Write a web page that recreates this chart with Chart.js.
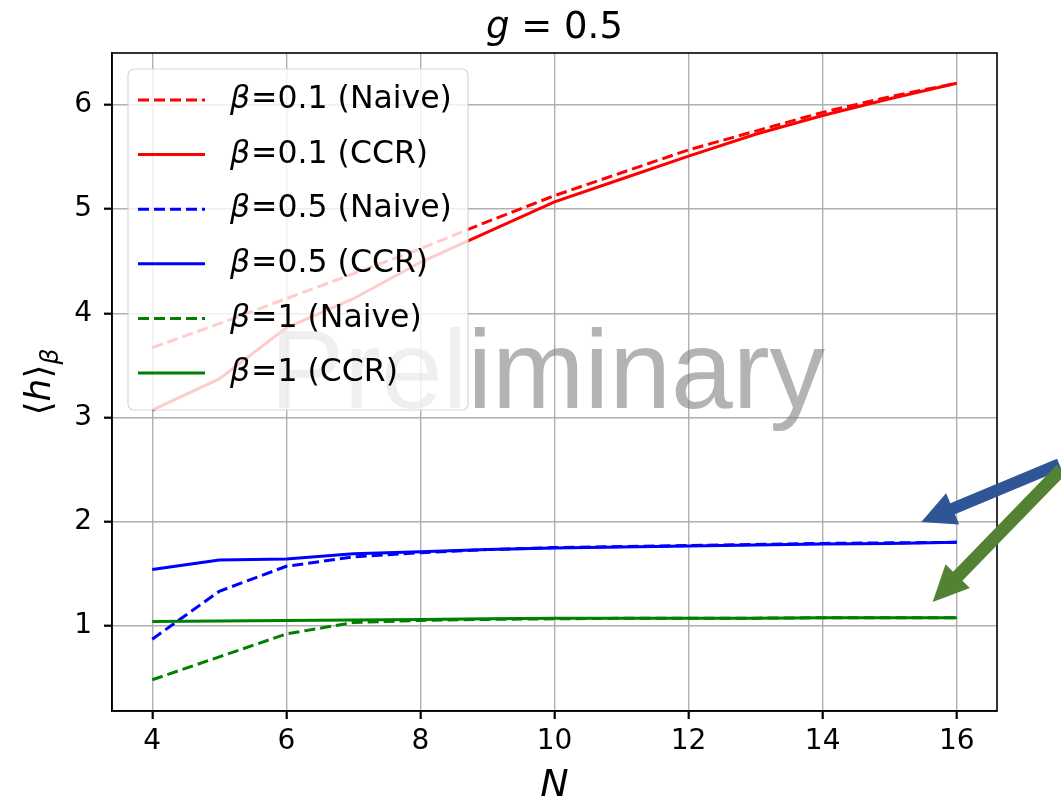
<!DOCTYPE html>
<html><head><meta charset="utf-8">
<script src="https://cdn.jsdelivr.net/npm/chart.js@4.4.0/dist/chart.umd.min.js"></script>
<style>html,body{margin:0;padding:0;background:#fff;}#wrap{width:1061px;height:800px;position:relative;}</style>
</head><body><div id="wrap"><canvas id="c" width="1061" height="800"></canvas></div>
<script>
// ---- data ----
const N = [4,5,6,7,8,9,10,11,12,13,14,15,16];
const red_naive   = [3.67,3.90,4.14,4.38,4.62,4.88,5.13,5.35,5.57,5.75,5.93,6.08,6.21];
const red_ccr     = [3.07,3.37,3.86,4.14,4.49,4.78,5.07,5.29,5.51,5.72,5.90,6.06,6.21];
const blue_naive  = [0.87,1.33,1.57,1.66,1.70,1.73,1.75,1.76,1.77,1.78,1.79,1.795,1.80];
const blue_ccr    = [1.54,1.63,1.64,1.69,1.71,1.73,1.745,1.755,1.765,1.775,1.785,1.79,1.80];
const green_naive = [0.48,0.70,0.92,1.03,1.05,1.06,1.065,1.07,1.07,1.072,1.075,1.075,1.075];
const green_ccr   = [1.04,1.045,1.05,1.055,1.06,1.065,1.07,1.07,1.07,1.072,1.075,1.075,1.075];
const seriesLabels = ['β=0.1 (Naive)','β=0.1 (CCR)','β=0.5 (Naive)','β=0.5 (CCR)','β=1 (Naive)','β=1 (CCR)'];
const xTicks = [4,6,8,10,12,14,16];
const yTicks = [1,2,3,4,5,6];
const titleText = ['g', ' = 0.5'];
const watermarkText = 'Preliminary';

// ---- styles ----
const series = [red_naive, red_ccr, blue_naive, blue_ccr, green_naive, green_ccr];
const colors = ['#ff0000','#ff0000','#0000ff','#0000ff','#008000','#008000'];
const dashed = [true,false,true,false,true,false];
const DASH = [11,5];
const LW = 3;
const FONT = '"DejaVu Sans", sans-serif';

const datasets = series.map((arr,i)=>({
  label: seriesLabels[i],
  data: N.map((x,j)=>({x:x, y:arr[j]})),
  borderColor: colors[i],
  backgroundColor: colors[i],
  borderWidth: LW,
  borderDash: dashed[i] ? DASH : [],
  pointRadius: 0,
  tension: 0,
  fill: false,
  order: 5 - i
}));

const arrows = [
  {tail:[17.53,2.55], tip:[15.47,1.996], color:'#2f5597', w:6, hw:17, hl:34},
  {tail:[17.56,2.50], tip:[15.64,1.227], color:'#548235', w:6.5, hw:17, hl:36}
];

const framePlugin = {
  id:'frame',
  afterDatasetsDraw(chart){
    const ctx = chart.ctx, a = chart.chartArea;
    // watermark
    ctx.save();
    ctx.font = '111px "Liberation Sans", Arial, sans-serif';
    ctx.fillStyle = 'rgba(128,128,128,0.6)';
    ctx.textBaseline = 'alphabetic';
    ctx.textAlign = 'left';
    ctx.fillText(watermarkText, 270, 408);
    ctx.restore();
    // frame
    ctx.save();
    ctx.strokeStyle = '#000'; ctx.lineWidth = 1.6;
    ctx.strokeRect(a.left, a.top, a.right-a.left, a.bottom-a.top);
    ctx.restore();
    // legend
    ctx.save();
    const bx = a.left+16, by = a.top+16, bw = 340, bh = 341, r = 6;
    ctx.beginPath();
    ctx.roundRect(bx, by, bw, bh, r);
    ctx.fillStyle = 'rgba(255,255,255,0.8)';
    ctx.fill();
    ctx.strokeStyle = 'rgba(204,204,204,0.8)';
    ctx.lineWidth = 1.2;
    ctx.stroke();
    chart.data.datasets.forEach((ds,i)=>{
      const cy = by + 31 + i*54.6;
      ctx.beginPath();
      ctx.setLineDash(ds.borderDash);
      ctx.strokeStyle = ds.borderColor;
      ctx.lineWidth = LW;
      ctx.moveTo(bx+10, cy); ctx.lineTo(bx+77, cy);
      ctx.stroke();
      ctx.setLineDash([]);
      ctx.fillStyle = '#000';
      ctx.textBaseline = 'middle';
      ctx.textAlign = 'left';
      const lab = ds.label;
      ctx.font = 'italic 31.5px ' + FONT;
      ctx.fillText(lab[0], bx+102, cy);
      const w0 = ctx.measureText(lab[0]).width;
      ctx.font = '31.5px ' + FONT;
      ctx.fillText(lab.slice(1), bx+102+w0+1, cy);
    });
    ctx.restore();
  },
  afterDraw(chart){
    const ctx = chart.ctx, a = chart.chartArea;
    const cx = (a.left+a.right)/2, cyA = (a.top+a.bottom)/2;
    ctx.save();
    ctx.fillStyle = '#000';
    ctx.textBaseline = 'alphabetic';
    // title
    ctx.font = 'italic 37px ' + FONT;
    const wg = ctx.measureText(titleText[0]).width;
    ctx.font = '37px ' + FONT;
    const wr = ctx.measureText(titleText[1]).width;
    let x0 = cx - (wg+wr)/2;
    ctx.font = 'italic 37px ' + FONT;
    ctx.fillText(titleText[0], x0, 38);
    ctx.font = '37px ' + FONT;
    ctx.fillText(titleText[1], x0+wg, 38);
    // x label
    ctx.font = 'italic 38px ' + FONT;
    ctx.textAlign = 'center';
    ctx.fillText('N', cx, 796);
    // y label
    ctx.save();
    ctx.translate(50, cyA);
    ctx.rotate(-Math.PI/2);
    ctx.textAlign = 'left';
    const parts = [['⟨','36px '],['h','italic 36px '],['⟩','36px ']];
    let tw = 0;
    parts.forEach(p=>{ctx.font = p[1]+FONT; tw += ctx.measureText(p[0]).width;});
    ctx.font = 'italic 25px ' + FONT; const wb = ctx.measureText('β').width;
    let px = -(tw+wb)/2;
    parts.forEach(p=>{ctx.font = p[1]+FONT; ctx.fillText(p[0], px, 0); px += ctx.measureText(p[0]).width;});
    ctx.font = 'italic 25px ' + FONT;
    ctx.fillText('β', px, 8);
    ctx.restore();
    // arrows
    const xs = chart.scales.x, ys = chart.scales.y;
    arrows.forEach(ar=>{
      const x1 = xs.getPixelForValue(ar.tail[0]), y1 = ys.getPixelForValue(ar.tail[1]);
      const x2 = xs.getPixelForValue(ar.tip[0]), y2 = ys.getPixelForValue(ar.tip[1]);
      const dx = x2-x1, dy = y2-y1, L = Math.hypot(dx,dy);
      const ux = dx/L, uy = dy/L, qx = -uy, qy = ux;
      const bxp = x2 - ux*ar.hl, byp = y2 - uy*ar.hl;
      ctx.beginPath();
      ctx.moveTo(x1+qx*ar.w, y1+qy*ar.w);
      ctx.lineTo(bxp+qx*ar.w, byp+qy*ar.w);
      ctx.lineTo(bxp+qx*ar.hw, byp+qy*ar.hw);
      ctx.lineTo(x2, y2);
      ctx.lineTo(bxp-qx*ar.hw, byp-qy*ar.hw);
      ctx.lineTo(bxp-qx*ar.w, byp-qy*ar.w);
      ctx.lineTo(x1-qx*ar.w, y1-qy*ar.w);
      ctx.closePath();
      ctx.fillStyle = ar.color;
      ctx.fill();
    });
    ctx.restore();
  }
};

new Chart(document.getElementById('c'), {
  type: 'line',
  data: { datasets },
  options: {
    responsive: false,
    animation: false,
    devicePixelRatio: 1,
    layout: { padding: { left: 0, right: 64, top: 53, bottom: 0 } },
    plugins: { legend: { display: false }, title: { display: false }, tooltip: { enabled: false } },
    scales: {
      x: {
        type: 'linear', min: 3.4, max: 16.6,
        afterBuildTicks: s => { s.ticks = xTicks.map(v=>({value:v})); },
        afterFit: s => { s.height = 89; },
        grid: { color: '#b0b0b0', lineWidth: 1.4, drawTicks: true, tickLength: 8, tickColor: '#000', tickWidth: 2.2 },
        border: { display: true, color: '#000', width: 1.6 },
        ticks: { font: { family: 'DejaVu Sans', size: 28 }, color: '#000', padding: 6, maxRotation: 0, autoSkip: false,
                 callback: v => String(v) }
      },
      y: {
        type: 'linear', min: 0.18, max: 6.5,
        afterBuildTicks: s => { s.ticks = yTicks.map(v=>({value:v})); },
        afterFit: s => { s.width = 112; },
        grid: { color: '#b0b0b0', lineWidth: 1.4, drawTicks: true, tickLength: 8, tickColor: '#000', tickWidth: 2.2 },
        border: { display: true, color: '#000', width: 1.6 },
        ticks: { font: { family: 'DejaVu Sans', size: 28 }, color: '#000', padding: 12, autoSkip: false,
                 callback: v => String(v) }
      }
    }
  },
  plugins: [framePlugin]
});
</script></body></html>
